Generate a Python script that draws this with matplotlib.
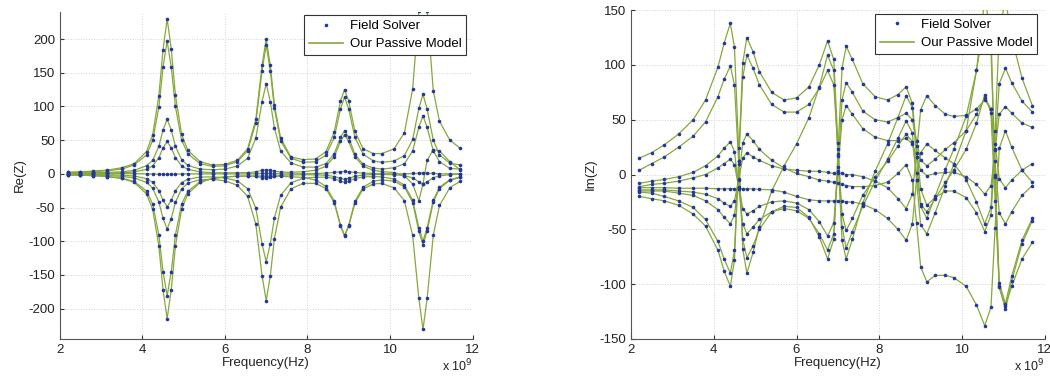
import matplotlib.pyplot as plt
from matplotlib.lines import Line2D

plt.rcParams['font.family'] = ['Liberation Sans', 'DejaVu Sans']
plt.rcParams['axes.unicode_minus'] = False

# frequency points, in units of 1e9 Hz
freq = [2.2, 2.5, 2.8, 3.15, 3.5, 3.8, 4.1, 4.25, 4.4, 4.5, 4.6, 4.7, 4.8, 4.95, 5.1, 5.4,
        5.7, 6.0, 6.3, 6.55, 6.75, 6.9, 7.0, 7.1, 7.2, 7.35, 7.6, 7.9, 8.2, 8.45, 8.65, 8.8,
        8.9, 9.0, 9.15, 9.35, 9.6, 9.8, 10.1, 10.35, 10.55, 10.7, 10.8, 10.9, 11.05, 11.2, 11.45, 11.7]

# ---- Re(Z) curves ----
re_p1 = [2, 3, 4, 5.5, 9, 15, 33, 58, 116, 184, 230, 185, 117, 59, 35, 18, 13, 14, 20, 37, 81, 161, 200, 161,
         102, 53, 25, 21, 22, 33, 62, 108, 125, 108, 63, 37, 30, 30, 37, 61, 126, 242, 302, 242, 123, 78, 50, 38]
re_p2 = [2, 2.5, 3, 4.5, 7, 13, 28, 49.5, 99, 158, 197, 158, 100, 50, 30, 15, 11, 12, 18, 34, 76, 153, 191, 153,
         97, 49, 23, 17, 18, 28, 54, 96, 114, 96, 54, 29, 19, 17, 19, 27, 51, 97, 118, 96, 50, 28, 16, 13]
re_p3 = [1, 1, 1.3, 2, 3, 5, 12, 20, 41, 65, 81, 65, 41, 21, 12.5, 7, 6, 7, 11.5, 23, 53, 107, 134, 107,
         68, 34, 16, 10, 10, 15, 30, 54, 64, 54, 29, 14, 8.5, 7, 9, 15, 34, 69, 86, 69, 34, 18, 8, 7]
re_p4 = [0.3, 0.4, 0.6, 0.9, 1.5, 2.8, 6.6, 11.8, 24, 38.4, 48, 38.4, 24, 11.8, 6.6, 2.9, 1.6, 1.5, 1.5, 1.8,
         3, 5, 6, 5.2, 3.7, 2.7, 2.3, 3.1, 5.3, 11.2, 25.3, 48, 58, 48, 25.3, 11.2, 5.2, 3.2, 1.9, -3,
         -15, -40, -15, 20, 36, 34, 18, 6]
re_n1 = [-0.5, -0.7, -0.9, -1.3, -2, -3.3, -7.2, -12.5, -25, -39, -49, -39.4, -25, -13, -8, -4.8, -4.5, -6,
         -10.5, -22, -51, -104, -130.5, -104, -65.3, -32, -13.3, -6.6, -5, -5, -7.2, -11, -12.5, -10.8, -7,
         -4.6, -4.2, -4.5, -7.8, -16.7, -39, -80, -100, -80, -39, -20, -8.6, -4.7]
re_n2 = [-1.3, -1.6, -1.9, -2.6, -3.8, -6.1, -12.7, -21.5, -42, -66, -82, -66.4, -42.5, -22.4, -14, -8.7,
         -8.2, -10.4, -17, -33.5, -75, -151, -188, -151.5, -96, -49.5, -22.4, -14, -14.3, -22, -43, -77.5,
         -92.5, -77.6, -43.4, -22.5, -15, -14.3, -20.7, -40, -91.5, -185, -231, -185, -91, -47, -20.6, -11.3]
re_n3 = [-1.8, -2.1, -2.7, -4, -6.4, -11.3, -25.5, -45, -91, -145, -181, -145, -91, -45, -25.8, -11.6, -6.9,
         -4.7, -3.8, -3.4, -3.2, -3.2, -3.3, -3.3, -3.4, -3.8, -4.4, -5.3, -9.3, -18.7, -40.7, -76, -91.5,
         -76.4, -41, -19.7, -11, -9, -10.8, -19.3, -42.6, -85.4, -106, -85, -42, -21.8, -9.8, -5.4]
re_n4 = [-1.5, -1.9, -2.6, -4.1, -6.9, -12.7, -29.7, -52.9, -107.5, -172, -215, -172, -107.5, -52.9, -29.7,
         -12.8, -7, -4.5, -3.4, -3, -3.9, -5.6, -6.5, -5.3, -3.8, -2.3, -1.7, -1.4, -1.5, -2.1, -4, -6.7,
         -8.2, -6.8, -3.7, -1.8, -1.1, -1, -1.4, -2.7, -6, -12, -15, -12, -5.9, -3, -1.3, -0.7]
re_z = [1, 1, 1, 0.8, 0.5, 0.3, 0, -0.3, -0.6, -0.8, -1, -0.8, -0.5, -0.2, 0, 0, 0, 0, 0, 0, 0.3, 0.6, 0.8,
        0.6, 0.3, 0, 0, 0, 0.5, 1, 2, 3, 3.5, 3, 2, 1, 0.5, 0, 0, 0, 0.5, 1, 1.5, 1, 0.5, 0, 0, 0]

# ---- Im(Z) curves ----
im_1 = [15, 20, 27, 37, 50, 68, 98, 120, 138, 116, 24, -68, -90, -71, -48, -15, 8, 28, 52, 80, 109, 95, 17,
        -60, -77, -59, -26, 3, 28, 52, 72, 61, 16, -29, -40, -20, 5, 23, 53, 95, 140, 115, 0, -102, -123, -97,
        -63, -42]
im_2 = [4, 10, 16, 25, 35, 48, 71, 87, 99, 82, 12, -59, -76, -65, -50, -34, -29, -30, -39, -57, -77, -59, 19,
        97, 117, 105, 83, 71, 68, 73, 80, 65, 26, -13, -28, -21, -15, -15, -21, -35, -52, -37, 23, 83, 97, 84,
        67, 57]
im_3 = [-8, -6, -4.5, -2, 2, 8, 17, 24, 30, 21, -12, -45, -54, -48, -41, -34, -31, -33, -40, -54, -69, -54, 7,
        68, 84, 75, 58, 50, 48, 52, 56, 50, 31, 13, 8, 14, 23, 29, 40, 55, 70, 60, 12, -35, -45, -34, -19, -10]
im_4 = [-11, -9, -8, -6, -3, 0, 6, 10, 14, 9, -11, -31, -36, -33, -29, -25, -24, -26, -32, -43, -56, -44, 3,
        50, 63, 55, 42, 34, 31, 31, 33, 28, 16, 4, -1, 1, 2, 2, -2, -9, -18, -10, 22, 55, 62, 56, 47, 43]
im_5 = [-14, -14, -14, -15, -16, -18, -22, -26, -29, -24, -5, 15, 20, 16, 13, 8, 5, 4, 3, 3, 2, 1, 1, 1, 0, 0,
        -2, -6, -12, -22, -31, -18, 20, 59, 72, 63, 55, 53, 54, 60, 68, 60, 28, -4, -12, -5, 4, 10]
im_6 = [-15, -15, -15, -17, -19, -24, -32, -39, -45, -37, -4, 29, 37, 31, 23, 13, 6, 1, -2, -5, -6, -7, -8,
        -9, -10, -11, -11, -10, -7, 1, 9, -5, -44, -84, -98, -92, -92, -94, -102, -119, -138, -121, -49, 24,
        40, 25, 4, -7]
im_7 = [-16, -17, -20, -24, -30, -41, -61, -77, -90, -69, 10, 89, 109, 97, 82, 64, 57, 57, 64, 79, 95, 82, 23,
        -36, -51, -40, -19, -2, 12, 26, 37, 30, 1, -27, -34, -22, -7, 4, 23, 47, 73, 56, -24, -103, -120, -102,
        -77, -62]
im_8 = [-20, -22, -24, -28, -36, -47, -69, -88, -102, -78, 12, 102, 125, 112, 94, 75, 68, 70, 80, 100, 122,
        105, 29, -48, -67, -52, -29, -6, 14, 33, 49, 38, -5, -46, -54, -35, -10, 9, 40, 95, 160, 130, -2, -99,
        -118, -93, -60, -40]
im_9 = [-12, -12, -12, -12.5, -12.5, -12.5, -13, -13, -13, -13, -13, -13, -13, -13, -13.5, -14, -16, -20, -23,
        -24, -24, -24, -24, -24, -25, -25, -27, -32, -40, -50, -60, -45, -5, 20, 28, 22, 15, 10, -5, -25, -45,
        -30, 40, 130, 160, 125, 88, 63]

re_curves = [re_p1, re_p2, re_p3, re_p4, re_n1, re_n2, re_n3, re_n4, re_z]
im_curves = [im_1, im_2, im_3, im_4, im_5, im_6, im_7, im_8, im_9]

dot_color = '#23389a'
line_color = '#86a83c'


def draw_panel(ax, curves, ylim, yticks, ylabel):
    for vals in curves:
        ax.plot(freq, vals, color=line_color, lw=0.9, zorder=2)
    for vals in curves:
        ax.plot(freq, vals, 'o', color=dot_color, ms=2.6, mew=0, zorder=3)
    ax.set_xlim(2, 12)
    ax.set_ylim(*ylim)
    ax.set_xticks([2, 4, 6, 8, 10, 12])
    ax.set_yticks(yticks)
    ax.tick_params(direction='in', labelsize=9.5, length=3, colors='#333333', labelcolor='#222222')
    ax.grid(True, linestyle=':', color='#d2d2d2', lw=0.7)
    for s in ['top', 'right']:
        ax.spines[s].set_visible(False)
    for s in ['left', 'bottom']:
        ax.spines[s].set_color('#555555')
    ax.set_xlabel('Frequency(Hz)', fontsize=9.5, labelpad=1, color='#222222')
    ax.set_ylabel(ylabel, fontsize=9.5, labelpad=2, color='#222222')
    ax.text(1.0, -0.1, 'x 10$^9$', transform=ax.transAxes, fontsize=9, ha='right', va='baseline',
            color='#222222')


fig = plt.figure(figsize=(10.5, 3.77), dpi=100)
ax1 = fig.add_axes([0.057, 0.101, 0.393, 0.867])
ax2 = fig.add_axes([0.601, 0.101, 0.394, 0.872])

draw_panel(ax1, re_curves, (-245, 240), [-200, -150, -100, -50, 0, 50, 100, 150, 200], 'Re(Z)')
draw_panel(ax2, im_curves, (-150, 150), [-150, -100, -50, 0, 50, 100, 150], 'Im(Z)')

handles = [Line2D([], [], ls='none', marker='o', ms=2.6, mew=0, color=dot_color),
           Line2D([], [], color=line_color, lw=1.2)]
labels = ['Field Solver', 'Our Passive Model']
for ax, anchor in [(ax1, (0.985, 0.99)), (ax2, (0.981, 0.988))]:
    leg = ax.legend(handles, labels, loc='upper right', bbox_to_anchor=anchor, fontsize=9.5,
                    fancybox=False, framealpha=1, edgecolor='#333333', borderpad=0.35,
                    handlelength=2.6, handletextpad=0.5, labelspacing=0.45, borderaxespad=0)
    leg.get_frame().set_linewidth(0.8)

fig.savefig('out.png', dpi=100)
